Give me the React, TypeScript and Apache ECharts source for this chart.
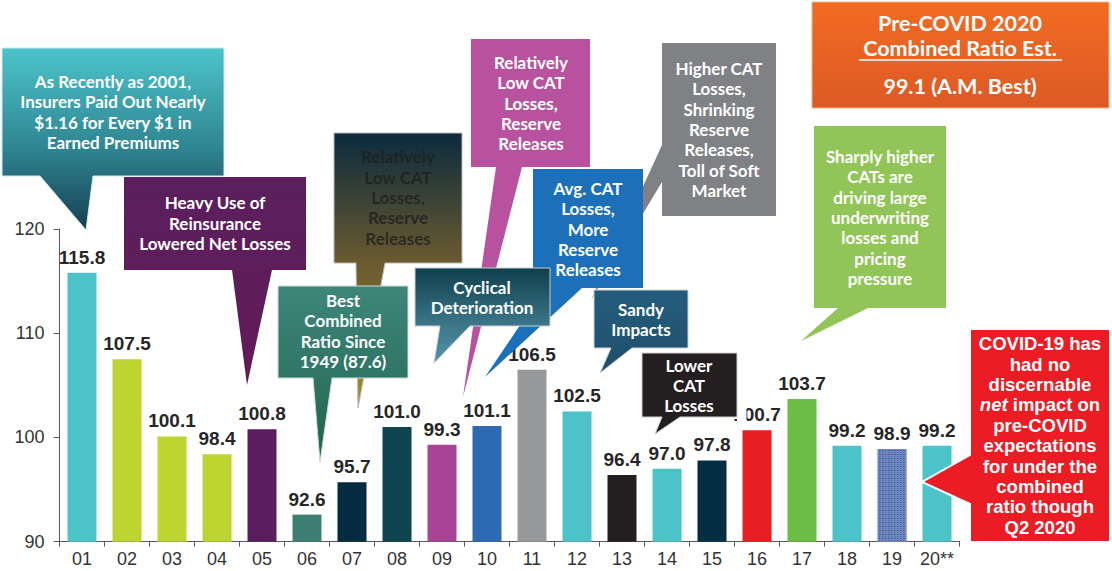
import React, { useEffect, useRef } from "react";
import * as echarts from "echarts";

const categories = ["01", "02", "03", "04", "05", "06", "07", "08", "09", "10", "11", "12", "13", "14", "15", "16", "17", "18", "19", "20**"];
const values = [115.8, 107.5, 100.1, 98.4, 100.8, 92.6, 95.7, 101.0, 99.3, 101.1, 106.5, 102.5, 96.4, 97.0, 97.8, 100.7, 103.7, 99.2, 98.9, 99.2];
const barColors = [
  "#4BC3C9", "#BDD531", "#BDD531", "#BDD531", "#5A1E5E", "#3E7F74", "#032C40", "#0E4550", "#A84495", "#2E69B3",
  "#98999B", "#4BC3C9", "#231F20", "#4BC3C9", "#022D42", "#E71E24", "#6ABD45", "#4BC3C9", "#7088C2", "#4BC3C9",
];
const yMin = 90;
const yMax = 120;
const yInterval = 10;

const grad = (stops: [number, string][]) =>
  new echarts.graphic.LinearGradient(0, 0, 0, 1, stops.map(([offset, color]) => ({ offset, color })));

type Callout = {
  pts: number[][];
  fill: any;
  stroke?: string;
  lines: string[];
  cx: number;
  cy: number;
  color?: string;
  font?: string;
  lh?: number;
};

const LATO = "bold 17px Lato";

const callouts: Callout[] = [
  {
    pts: [[662, 43], [776, 43], [776, 216], [662, 216], [662, 182], [591, 300], [662, 145]],
    fill: "#808184",
    lines: ["Higher CAT", "Losses,", "Shrinking", "Reserve", "Releases,", "Toll of Soft", "Market"],
    cx: 719, cy: 129.5,
  },
  {
    pts: [[471, 39], [590, 39], [590, 167], [522, 167], [463, 397], [496, 167], [471, 167]],
    fill: "#B8529E",
    lines: ["Relatively", "Low CAT", "Losses,", "Reserve", "Releases"],
    cx: 531, cy: 103,
  },
  {
    pts: [[533, 169], [643, 169], [643, 288], [582, 288], [485, 377], [545, 288], [533, 288]],
    fill: "#1C70BA",
    lines: ["Avg. CAT", "Losses,", "More", "Reserve", "Releases"],
    cx: 588, cy: 229,
  },
  {
    pts: [[2, 48], [224, 48], [224, 176], [93, 176], [86, 230], [40, 176], [2, 176]],
    fill: grad([[0, "#4CC4CA"], [0.55, "#2F8592"], [1, "#163E52"]]),
    stroke: "#cfe9ec",
    lines: ["As Recently as 2001,", "Insurers Paid Out Nearly", "$1.16 for Every $1 in", "Earned Premiums"],
    cx: 113, cy: 112,
  },
  {
    pts: [[124, 177], [306, 177], [306, 270], [272, 270], [247, 385], [232, 270], [124, 270]],
    fill: grad([[0, "#5B1F5E"], [1, "#621A57"]]),
    lines: ["Heavy Use of", "Reinsurance", "Lowered Net Losses"],
    cx: 215, cy: 223,
  },
  {
    pts: [[334, 133], [462, 133], [462, 263], [385, 263], [358, 408], [356, 263], [334, 263]],
    fill: grad([[0, "#0B2A3D"], [0.47, "#6A5A30"], [1, "#A88A28"]]),
    stroke: "#b9b9b9",
    lines: ["Relatively", "Low CAT", "Losses,", "Reserve", "Releases"],
    cx: 398, cy: 197.5,
    color: "rgba(30,30,30,0.78)",
  },
  {
    pts: [[278, 286], [408, 286], [408, 378], [332, 378], [320, 462], [313, 378], [278, 378]],
    fill: grad([[0, "#3E867A"], [0.52, "#2F7564"], [1, "#1F6440"]]),
    stroke: "#c9dcd8",
    lines: ["Best", "Combined", "Ratio Since", "1949 (87.6)"],
    cx: 343, cy: 331,
  },
  {
    pts: [[415, 268], [550, 268], [550, 326], [470, 326], [434, 363], [440, 326], [415, 326]],
    fill: grad([[0, "#103F4B"], [0.6, "#3C7689"], [1, "#5294A8"]]),
    stroke: "#c6cfd3",
    lines: ["Cyclical", "Deterioration"],
    cx: 482, cy: 297.5,
  },
  {
    pts: [[594, 290], [688, 290], [688, 348], [632, 348], [600, 373], [611, 348], [594, 348]],
    fill: grad([[0, "#245C7D"], [1, "#1F4F6C"]]),
    stroke: "#c6d3da",
    lines: ["Sandy", "Impacts"],
    cx: 641, cy: 319.5,
  },
  {
    pts: [[642, 353], [737, 353], [737, 417], [680, 417], [655, 434], [662, 417], [642, 417]],
    fill: "#231F20",
    stroke: "#d0d0d0",
    lines: ["Lower", "CAT", "Losses"],
    cx: 689, cy: 385.5,
  },
  {
    pts: [[814, 126], [946, 126], [946, 308], [868, 308], [801, 341], [838, 308], [814, 308]],
    fill: "#92C557",
    lines: ["Sharply higher", "CATs are", "driving large", "underwriting", "losses and", "pricing", "pressure"],
    cx: 880, cy: 217.5,
  },
];

export default function App() {
  const ref = useRef<HTMLDivElement>(null);
  useEffect(() => {
    document.body.style.margin = "0";
    const chart = echarts.init(ref.current!, undefined, { renderer: "svg" });

    const graphics: any[] = [];
    callouts.forEach((c, i) => {
      const z = 100 + i * 2;
      graphics.push({
        type: "polygon",
        z,
        shape: { points: c.pts },
        style: { fill: c.fill, stroke: c.stroke || "none", lineWidth: c.stroke ? 1 : 0 },
      });
      graphics.push({
        type: "text",
        z: z + 1,
        style: {
          text: c.lines.join("\n"),
          x: c.cx,
          y: c.cy,
          fill: c.color || "#ffffff",
          font: c.font || LATO,
          align: "center",
          verticalAlign: "middle",
          textAlign: "center",
          textVerticalAlign: "middle",
          lineHeight: c.lh || 20.4,
        },
      });
    });

    // white patch that hides the leading digit of the 2016 label, as in the reference
    graphics.push({
      type: "rect",
      z: 99,
      shape: { x: 737, y: 402, width: 9.5, height: 24 },
      style: { fill: "#ffffff" },
    });

    // Orange header box
    graphics.push({
      type: "rect",
      z: 200,
      shape: { x: 812, y: 2, width: 297, height: 106 },
      style: { fill: grad([[0, "#F26B22"], [1, "#DC5A25"]]), stroke: "#f6b48a", lineWidth: 1 },
    });
    const orangeLines = [
      { t: "Pre-COVID 2020", y: 23 },
      { t: "Combined Ratio Est.", y: 48 },
      { t: "99.1 (A.M. Best)", y: 86 },
    ];
    orangeLines.forEach((l) => {
      graphics.push({
        type: "text",
        z: 201,
        style: {
          text: l.t, x: 960, y: l.y, fill: "#fff", font: "bold 21.5px Lato",
          align: "center", verticalAlign: "middle", textAlign: "center", textVerticalAlign: "middle",
        },
      });
    });
    graphics.push({
      type: "line",
      z: 201,
      shape: { x1: 859, y1: 60, x2: 1062, y2: 60 },
      style: { stroke: "#fff", lineWidth: 1.6 },
    });

    // Red COVID callout
    graphics.push({
      type: "polygon",
      z: 210,
      shape: { points: [[970, 329], [1110, 329], [1110, 542], [970, 542], [970, 504], [922, 482], [970, 455]] },
      style: { fill: "#EC1C24", stroke: "#ffffff", lineWidth: 2 },
    });
    graphics.push({
      type: "text",
      z: 211,
      style: {
        text: "COVID-19 has\nhad no\ndiscernable\n{i|net} impact on\npre-COVID\nexpectations\nfor under the\ncombined\nratio though\nQ2 2020",
        x: 1040,
        y: 435.5,
        fill: "#fff",
        font: "bold 18.5px 'Liberation Sans'",
        align: "center",
        verticalAlign: "middle",
        textAlign: "center",
        textVerticalAlign: "middle",
        lineHeight: 20.4,
        rich: {
          i: {
            fontStyle: "italic",
            fontWeight: "bold",
            fontSize: 18.5,
            fontFamily: "Liberation Sans",
            fill: "#fff",
            lineHeight: 20.4,
          },
        },
      },
    });

    const option: any = {
      animation: false,
      backgroundColor: "#ffffff",
      grid: { left: 59.5, right: 152.5, top: 229, bottom: 29.3, containLabel: false },
      xAxis: {
        type: "category",
        data: categories,
        axisLine: { lineStyle: { color: "#595959", width: 1 } },
        axisTick: { show: true, length: 5, lineStyle: { color: "#595959" } },
        axisLabel: { color: "#333", fontSize: 18, fontFamily: "Liberation Sans", margin: 8 },
      },
      yAxis: {
        type: "value",
        min: yMin,
        max: yMax,
        interval: yInterval,
        splitLine: { show: false },
        axisLine: { show: true, lineStyle: { color: "#595959", width: 1 } },
        axisTick: { show: true, length: 6, lineStyle: { color: "#595959" } },
        axisLabel: { color: "#333", fontSize: 18, fontFamily: "Liberation Sans", margin: 15 },
      },
      series: [
        {
          type: "bar",
          barWidth: 29,
          data: values.map((v, i) => ({
            value: v,
            itemStyle:
              i === 18
                ? {
                    color: barColors[i],
                    decal: {
                      symbol: "rect",
                      symbolSize: 1,
                      color: "rgba(30,50,110,0.45)",
                      dashArrayX: [[2, 1], [1, 2]],
                      dashArrayY: [1, 1],
                      rotation: 0,
                    },
                  }
                : { color: barColors[i] },
          })),
          label: {
            show: true,
            position: "top",
            distance: 6,
            formatter: (p: any) => Number(p.value).toFixed(1),
            fontSize: 19,
            fontWeight: "bold",
            fontFamily: "Liberation Sans",
            color: "#262626",
          },
        },
      ],
      graphic: graphics,
    };
    chart.setOption(option);
    return () => chart.dispose();
  }, []);
  return <div ref={ref} style={{ width: 1112, height: 571, position: "relative" }} />;
}
